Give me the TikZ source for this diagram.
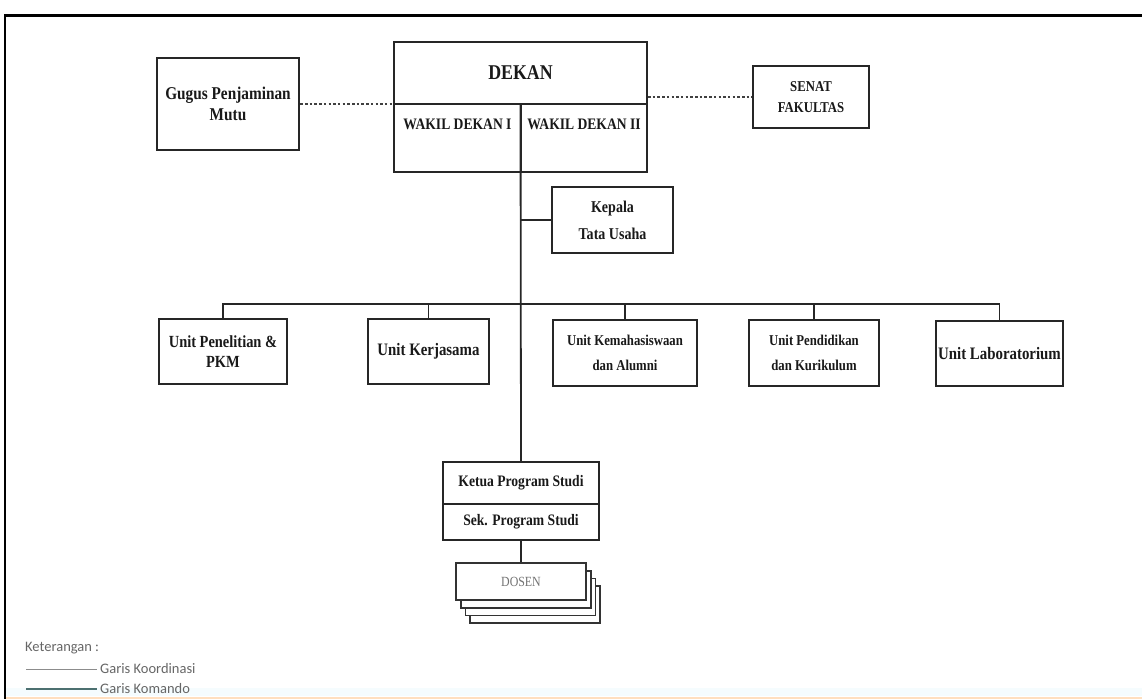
\documentclass[tikz,border=0pt]{standalone}
\usepackage{fontspec}
\setmainfont{Liberation Serif}
\newfontfamily\orgf{Liberation Serif}[FakeStretch=0.85]
\newfontfamily\legf{Carlito}
\newcommand{\fsz}[2]{\fontsize{#1}{#2}\selectfont}
\usetikzlibrary{calc}
\tikzset{
  box/.style={draw=black!85, line width=2pt, fill=white, inner sep=1pt, align=center,
              font=\orgf\bfseries, text=black!90},
  txt/.style={inner sep=0pt, align=center, font=\orgf\bfseries, text=black!90},
  cmd/.style={draw=black!85, line width=1.8pt},
  coord/.style={draw=black!75, line width=2pt, dash pattern=on 2.5pt off 2.2pt},
  stackbox/.style={draw=black!80, line width=1.6pt, fill=white, inner sep=0pt},
  legtxt/.style={inner sep=0pt, anchor=west, font=\legf\fsz{14.5}{16}, text=black!60},
}
\begin{document}
\begin{tikzpicture}[x=1pt,y=-1pt]
\useasboundingbox (0,0) rectangle (1142,699);
% frame
\fill[cyan!4] (6,688) rectangle (1142,696);
\draw[orange!25, line width=2pt] (6,698) -- (1142,698);
\draw[black, line width=3pt] (4,15) -- (1142,15);
\draw[black, line width=2pt] (5,14) -- (5,699);

% top level
\node[box, minimum width=253pt, minimum height=62pt, font=\orgf\bfseries\fsz{21}{24}] (dekan) at (520.5,73) {DEKAN};
\node[box, minimum width=127pt, minimum height=68pt] (wd1) at (457.5,138) {};
\node[box, minimum width=126pt, minimum height=68pt] (wd2) at (584,138) {};
\node[txt, font=\orgf\bfseries\fsz{16}{19}] (wd1t) at (457.5,124) {WAKIL DEKAN I};
\node[txt, font=\orgf\bfseries\fsz{16}{19}] (wd2t) at (584,124) {WAKIL DEKAN II};

\node[box, line width=2.6pt, minimum width=142pt, minimum height=92pt, font=\orgf\bfseries\fsz{18}{21}] (gpm) at (228,104) {Gugus Penjaminan\\Mutu};
\node[box, minimum width=116pt, minimum height=62pt, font=\orgf\bfseries\fsz{15}{21}] (senat) at (811,97) {SENAT\\FAKULTAS};

\node[box, minimum width=121pt, minimum height=66pt, font=\orgf\bfseries\fsz{16.5}{27}] (ktu) at (612.5,220) {Kepala\\Tata Usaha};

% units
\node[box, minimum width=128pt, minimum height=65pt, font=\orgf\bfseries\fsz{17}{20}] (u1) at (223,351.5) {Unit Penelitian \&\\PKM};
\node[box, minimum width=121pt, minimum height=65pt, font=\orgf\bfseries\fsz{17.5}{20}] (u2) at (428.5,351.5) {Unit Kerjasama};
\node[box, minimum width=144pt, minimum height=66pt, font=\orgf\bfseries\fsz{15}{25}] (u3) at (625,353) {Unit Kemahasiswaan\\dan Alumni};
\node[box, minimum width=130pt, minimum height=66pt, font=\orgf\bfseries\fsz{15}{25}] (u4) at (814,353) {Unit Pendidikan\\dan Kurikulum};
\node[box, inner sep=0pt, minimum width=127pt, minimum height=65pt, font=\orgf\bfseries\fsz{17.5}{20}] (u5) at (999.5,353.5) {Unit Laboratorium};

% program studi
\node[box, minimum width=156pt, minimum height=42pt, font=\orgf\bfseries\fsz{16}{19}] (kps) at (521,483) {Ketua Program Studi};
\node[box, minimum width=156pt, minimum height=36pt, font=\orgf\bfseries\fsz{16}{19}] (sps) at (521,522) {Sek. Program Studi};

% dosen stack
\node[stackbox, minimum width=130pt, minimum height=37pt] (d3) at ($(521,581.5)+(14.1,23.1)$) {};
\node[stackbox, minimum width=130pt, minimum height=37pt] (d2) at ($(521,581.5)+(9.4,15.4)$) {};
\node[stackbox, minimum width=130pt, minimum height=37pt] (d1) at ($(521,581.5)+(4.7,7.7)$) {};
\node[stackbox, minimum width=130pt, minimum height=37pt, font=\orgf\fsz{14}{16}, text=black!55] (dosen) at (521,581.5) {DOSEN};

% coordination lines
\draw[coord] (gpm.east) -- (gpm.east -| dekan.west);
\draw[coord] (dekan.east |- senat.west) -- (senat.west);

% command lines
\coordinate (bus) at (521,304);
\draw[cmd] (dekan.south) -- (kps.north);
\draw[cmd] (ktu.west) -- (ktu.west -| dekan.south);
\draw[cmd] (u1.north) |- (bus) -| (u5.north);
\draw[cmd] (u2.north) -- (u2.north |- bus);
\draw[cmd] (u3.north) -- (u3.north |- bus);
\draw[cmd] (u4.north) -- (u4.north |- bus);
\draw[cmd] (sps.south) -- (dosen.north);

% legend
\node[legtxt] (ket) at (25,648) {Keterangan :};
\coordinate (l1a) at (26,669);
\coordinate (l2a) at (26,689);
\node[legtxt] (l1t) at (100,669) {Garis Koordinasi};
\node[legtxt] (l2t) at (100,689) {Garis Komando};
\draw[black!45, line width=1pt] (l1a) -- ([xshift=-3pt]l1t.west);
\draw[black!60!teal!70, line width=1.4pt] (l2a) -- ([xshift=-3pt]l2t.west);
\end{tikzpicture}
\end{document}
